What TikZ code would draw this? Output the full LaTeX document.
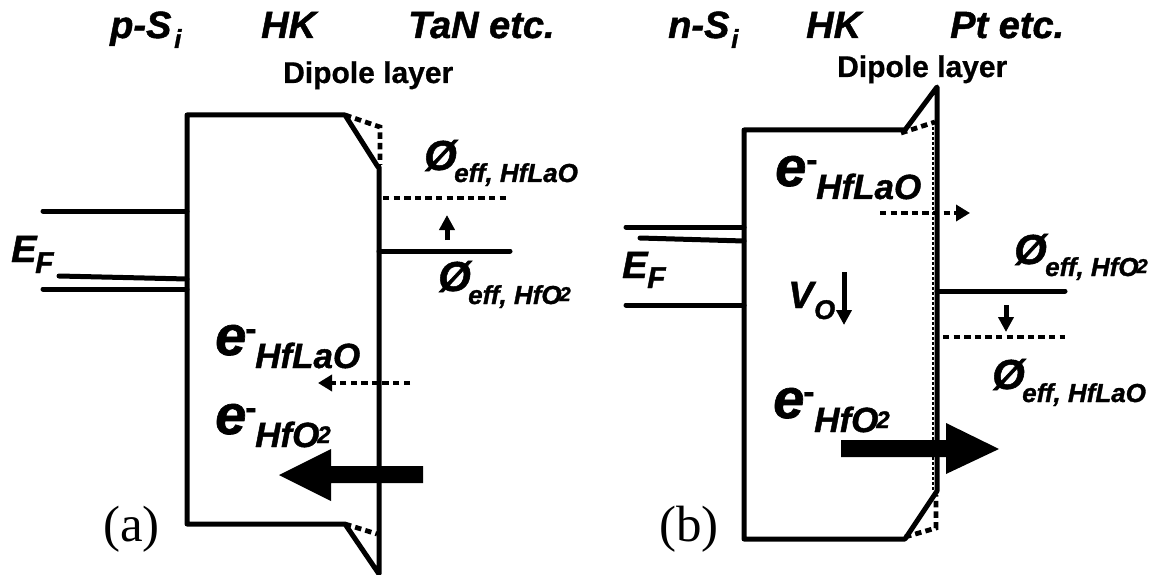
\documentclass[tikz,border=0pt]{standalone}
\usepackage{fontspec}
\setmainfont{Liberation Sans}[BoldItalicFeatures={FakeBold=1.2},BoldFeatures={FakeBold=0.7}]
\newfontfamily\panelfont{Liberation Serif}
\usetikzlibrary{arrows.meta}
\newcommand{\hfotwo}[2]{HfO\kern-2pt\raisebox{#2}{\fontsize{#1}{#1}\selectfont 2}}
\tikzset{
  band/.style={line width=5pt,line cap=round,line join=round},
  banddots/.style={line width=4.8pt,dash pattern=on 6.4pt off 4.2pt},
  smallarrow/.style={line width=5pt,-{Triangle[length=15pt,width=15pt]}},
  dotarrow/.style={line width=4.8pt,dash pattern=on 6.4pt off 4.2pt,-{Triangle[length=14pt,width=16pt,sep=0pt]}},
  lab/.style={anchor=base west,inner sep=0pt,font=\bfseries\itshape},
  headlab/.style={lab,font=\fontsize{38}{40}\selectfont\bfseries\itshape},
  dipolelab/.style={anchor=base west,inner sep=0pt,font=\fontsize{30}{32}\selectfont\bfseries},
  philab/.style={lab,font=\fontsize{42}{44}\selectfont\bfseries\itshape},
  effsub/.style={lab,font=\fontsize{26}{28}\selectfont\bfseries\itshape},
  elab/.style={lab,font=\fontsize{56}{58}\selectfont\bfseries\itshape},
  eminus/.style={lab,font=\fontsize{34}{36}\selectfont\bfseries},
  esub/.style={lab,font=\fontsize{35}{37}\selectfont\bfseries\itshape},
  panellab/.style={anchor=base west,inner sep=0pt,font=\fontsize{51}{53}\selectfont\panelfont},
}
\begin{document}
\begin{tikzpicture}[x=1pt,y=-1pt]
\useasboundingbox (0,0) rectangle (1160,575);
% panel a
\draw[band] (378,167) -- (345,115) -- (187,115) -- (187,524) -- (345,524) -- (379,574) -- (379,167);
\draw[banddots] (345,115) -- (380,127) -- (380,165);
\draw[banddots] (345,524) -- (377,534);
\draw[band] (43,211) -- (187,211);
\draw[band] (59,276) -- (187,279);
\draw[band] (43,289) -- (187,289);
\draw[band] (379,251) -- (510,251);
\draw[banddots] (383,198) -- (510,198);
\draw[smallarrow] (447,240) -- (447,215);
\draw[dotarrow] (410,383) -- (318,383);
\fill (423,466) -- (331,466) -- (331,449) -- (279,475) -- (331,501) -- (331,483) -- (423,483) -- cycle;
\node[headlab] (pSi) at (110,38) {p-S};
\node[lab,font=\fontsize{26}{28}\selectfont\bfseries\itshape] (pSisub) at (174,48) {i};
\node[headlab] (hkA) at (261,38) {HK};
\node[headlab] (tan) at (408,38) {TaN etc.};
\node[dipolelab] (dipoleA) at (283,83) {Dipole layer};
\node[headlab] (efA) at (11,262) {E};
\node[lab,font=\fontsize{30}{32}\selectfont\bfseries\itshape] (efAsub) at (35,273) {F};
\node[philab] (phiLaA) at (424,170) {Ø};
\node[effsub] (phiLaAsub) at (454,182) {eff, HfLaO};
\node[philab] (phiHfA) at (438,291) {Ø};
\node[effsub] (phiHfAsub) at (468,304) {eff, \hfotwo{20}{3pt}};
\node[elab] (eLaA) at (215,355) {e};
\node[eminus] (eLaAminus) at (245,340) {-};
\node[esub] (eLaAsub) at (255,368) {HfLaO};
\node[elab] (eHfA) at (215,434) {e};
\node[eminus] (eHfAminus) at (245,419) {-};
\node[esub] (eHfAsub) at (255,447) {\hfotwo{24}{4pt}};
\node[panellab] (panelA) at (103,541) {(a)};
% panel b
\draw[band] (905,130) -- (744,130) -- (744,539) -- (905,539) -- (937,491) -- (937,87) -- (905,130);
\draw[line width=1.4pt,dash pattern=on 3pt off 2pt] (933,122) -- (933,490);
\draw[banddots] (901,133) -- (935,122);
\draw[banddots] (905,537) -- (936,528) -- (936,495);
\draw[band] (626,227) -- (744,227);
\draw[band] (640,238) -- (744,241);
\draw[band] (626,305) -- (744,305);
\draw[band] (937,291) -- (1065,291);
\draw[banddots] (943,337) -- (1065,337);
\draw[smallarrow] (1006,305) -- (1006,332);
\draw[smallarrow] (844,272) -- (844,325);
\draw[dotarrow] (880,213) -- (970,213);
\fill (841,440) -- (946,440) -- (946,423) -- (999,449) -- (946,474) -- (946,457) -- (841,457) -- cycle;
\node[headlab] (nSi) at (668,38) {n-S};
\node[lab,font=\fontsize{26}{28}\selectfont\bfseries\itshape] (nSisub) at (731,48) {i};
\node[headlab] (hkB) at (806,38) {HK};
\node[headlab] (pt) at (950,38) {Pt etc.};
\node[dipolelab] (dipoleB) at (837,77) {Dipole layer};
\node[headlab] (efB) at (622,278) {E};
\node[lab,font=\fontsize{30}{32}\selectfont\bfseries\itshape] (efBsub) at (647,288) {F};
\node[philab] (phiHfB) at (1014,264) {Ø};
\node[effsub] (phiHfBsub) at (1045,276) {eff, \hfotwo{20}{3pt}};
\node[philab] (phiLaB) at (992,389) {Ø};
\node[effsub] (phiLaBsub) at (1022,402) {eff, HfLaO};
\node[elab] (eLaB) at (775,186) {e};
\node[eminus] (eLaBminus) at (806,171) {-};
\node[esub] (eLaBsub) at (816,199) {HfLaO};
\node[elab] (eHfB) at (773,418) {e};
\node[eminus] (eHfBminus) at (803,403) {-};
\node[esub] (eHfBsub) at (814,432) {\hfotwo{24}{4pt}};
\node[lab,font=\fontsize{38}{40}\selectfont\bfseries\itshape] (vo) at (788,308) {V};
\node[lab,font=\fontsize{27}{29}\selectfont\bfseries\itshape] (vosub) at (814,319) {O};
\node[panellab] (panelB) at (659,541) {(b)};
\end{tikzpicture}
\end{document}
